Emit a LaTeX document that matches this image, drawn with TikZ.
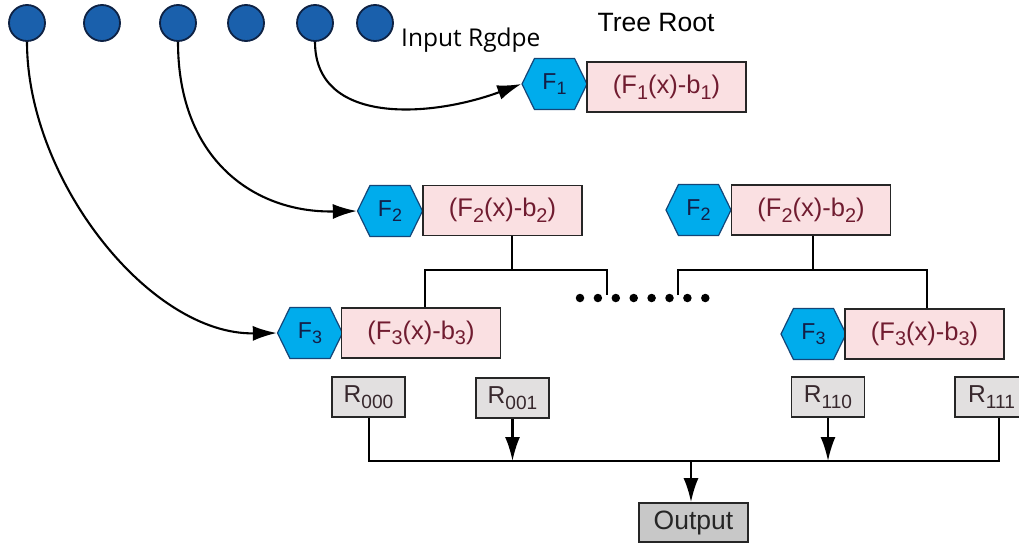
\documentclass[tikz,border=0pt]{standalone}
\usepackage{fontspec}
\setmainfont{Liberation Sans}
\newfontfamily\labelfont{Open Sans}
\usetikzlibrary{arrows.meta,shapes.symbols}

\definecolor{inputblue}{RGB}{26,96,172}
\definecolor{inputedge}{RGB}{14,34,68}
\definecolor{hexfill}{RGB}{0,172,236}
\definecolor{hexedge}{RGB}{20,70,120}
\definecolor{hextext}{RGB}{20,30,70}
\definecolor{termfill}{RGB}{250,224,226}
\definecolor{termtext}{RGB}{112,28,48}
\definecolor{leaffill}{RGB}{226,224,224}
\definecolor{leaftext}{RGB}{55,40,45}
\definecolor{outfill}{RGB}{200,200,200}

% lowered index in the same face, a little smaller than the main text
\newcommand{\idx}[1]{\raisebox{-0.22em}{\scalebox{0.78}{#1}}}

\tikzset{
  inputdot/.style={circle, draw=inputedge, fill=inputblue, line width=1.8pt,
    minimum size=36pt, inner sep=0pt},
  hexnode/.style={shape=signal, signal to=west and east, signal pointer angle=128,
    draw=hexedge, fill=hexfill, line width=1.2pt, text=hextext,
    minimum width=65pt, minimum height=51pt, inner sep=0pt,
    font=\fontsize{23}{26}\selectfont},
  termbox/.style={rectangle, draw=black!85, fill=termfill, line width=1.6pt,
    text=termtext, minimum width=159pt, minimum height=50pt, inner sep=0pt,
    font=\fontsize{25.5}{28}\selectfont},
  leafbox/.style={rectangle, draw=black!85, fill=leaffill, line width=1.7pt,
    text=leaftext, minimum width=73pt, minimum height=40pt, inner sep=0pt,
    font=\fontsize{24.5}{27}\selectfont},
  outbox/.style={rectangle, draw=black!85, fill=outfill, line width=1.7pt,
    text=black!85, minimum width=109pt, minimum height=39pt, inner sep=0pt,
    font=\fontsize{26.5}{29}\selectfont},
  feed/.style={line width=2.1pt, -{Latex[length=24pt,width=15pt]}},
  wire/.style={line width=2pt},
  busarrow/.style={line width=2.1pt, -{Latex[length=24pt,width=15pt]}},
  gapdot/.style={circle, fill=black, minimum size=8.5pt, inner sep=0pt}
}

\begin{document}
\begin{tikzpicture}[x=1pt,y=1pt]
\useasboundingbox (0,0) rectangle (1019,-544);

% input layer
\node[inputdot] (c1) at (27,-23) {};
\node[inputdot] (c2) at (102,-23) {};
\node[inputdot] (c3) at (178,-23) {};
\node[inputdot] (c4) at (246,-23) {};
\node[inputdot] (c5) at (315,-23) {};
\node[inputdot] (c6) at (375,-23) {};
\node[anchor=base west, font=\labelfont\fontsize{24.5}{27}\selectfont, inner sep=0pt]
  (inlabel) at (401,-46) {Input Rgdpe};
\node[anchor=base, font=\fontsize{26.5}{29}\selectfont, inner sep=0pt]
  (rootlabel) at (656,-31) {Tree Root};

% level 1
\node[hexnode] (h1) at (554.5,-84) {F\idx{1}};
\node[termbox] (t1) at (666.5,-87) {(F\idx{1}(x)-b\idx{1})};

% level 2
\node[hexnode] (h2a) at (390,-211) {F\idx{2}};
\node[termbox] (t2a) at (502.5,-210.5) {(F\idx{2}(x)-b\idx{2})};
\node[hexnode] (h2b) at (698.5,-210) {F\idx{2}};
\node[termbox] (t2b) at (811,-210) {(F\idx{2}(x)-b\idx{2})};

% level 3
\node[hexnode] (h3a) at (310,-333) {F\idx{3}};
\node[termbox] (t3a) at (421,-333) {(F\idx{3}(x)-b\idx{3})};
\node[hexnode] (h3b) at (813.5,-334) {F\idx{3}};
\node[termbox] (t3b) at (924.5,-334) {(F\idx{3}(x)-b\idx{3})};

% leaves and output
\node[leafbox] (r000) at (368.5,-397) {R\idx{000}};
\node[leafbox] (r001) at (512.5,-398) {R\idx{001}};
\node[leafbox] (r110) at (828,-397) {R\idx{110}};
\node[leafbox] (r111) at (991.5,-397) {R\idx{111}};
\node[outbox] (out) at (693.5,-522.5) {Output};

% inputs feeding the tree levels
\draw[feed] (c5.south) .. controls +(0,-83) and +(-92,-34) .. (h1.west);
\draw[feed] (c3.south) .. controls +(0,-118) and +(-102,-2) .. (h2a.west);
\draw[feed] (c1.south) .. controls +(0,-138) and +(-127,-2) .. (h3a.west);

% left branch
\coordinate (ja) at (512,-270);
\coordinate (jaL) at (425,-270);
\coordinate (jaR) at (607,-270);
\coordinate (jaE) at (607,-295);
\draw[wire] (t2a.south -| ja) -- (ja);
\draw[wire] (t3a.north -| jaL) -- (jaL) -- (jaR) -- (jaE);

% right branch
\coordinate (jb) at (813,-270);
\coordinate (jbL) at (678,-270);
\coordinate (jbR) at (927,-270);
\coordinate (jbE) at (678,-295);
\draw[wire] (t2b.south -| jb) -- (jb);
\draw[wire] (jbE) -- (jbL) -- (jbR) -- (t3b.north -| jbR);

% elided nodes
\foreach \k in {0,...,7} {
  \node[gapdot] (gap\k) at ({580+17.9*\k},-298) {};
}

% collecting bus
\coordinate (busL) at (368.5,-461);
\coordinate (busR) at (999,-461);
\coordinate (busO) at (691,-461);
\draw[wire] (r000.south) -- (busL) -- (busR) -- (busR |- r111.south);
\draw[busarrow] (r001.south) -- (r001.south |- busL);
\draw[busarrow] (r110.south) -- (r110.south |- busL);
\draw[busarrow] (busO) -- (busO |- out.north);
\end{tikzpicture}
\end{document}
